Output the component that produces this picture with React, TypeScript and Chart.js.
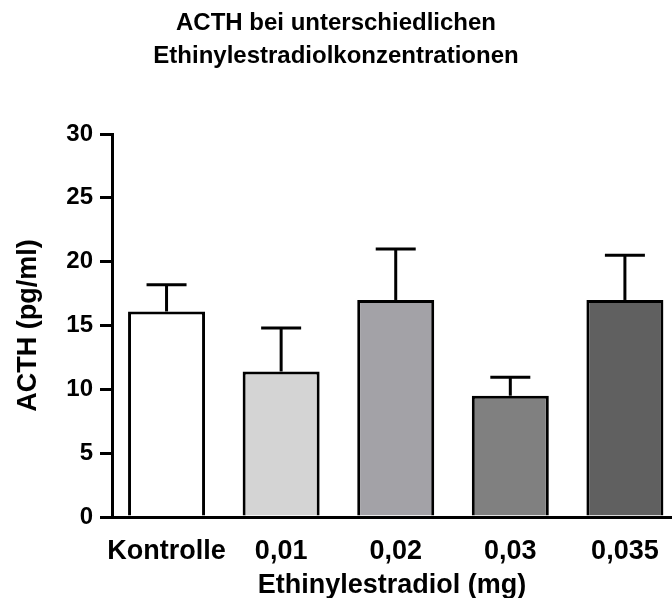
import { useEffect, useRef } from 'react';
import { Chart, registerables } from 'chart.js';

Chart.register(...registerables);

// Chart content
const chartTitle = ['ACTH bei unterschiedlichen', 'Ethinylestradiolkonzentrationen'];
const categories = ['Kontrolle', '0,01', '0,02', '0,03', '0,035'];
const acthMean = [16.1, 11.4, 17.0, 9.5, 17.0];
const acthSem = [2.1, 3.4, 4.0, 1.45, 3.5];
const barColors = ['#ffffff', '#d4d4d4', '#a3a2a7', '#808080', '#606060'];
const yAxisLabel = 'ACTH (pg/ml)';
const xAxisLabel = 'Ethinylestradiol (mg)';
const yMin = 0;
const yMax = 30;
const yStep = 5;

const FONT = '"Liberation Sans", Arial, Helvetica, sans-serif';

// Upper error bars (mean + SEM) drawn on top of each bar
const errorBarsPlugin = {
  id: 'errorBars',
  afterDatasetsDraw(chart: any) {
    const { ctx } = chart;
    const meta = chart.getDatasetMeta(0);
    const yScale = chart.scales.y;
    ctx.save();
    ctx.strokeStyle = '#000';
    ctx.lineWidth = 3;
    ctx.lineCap = 'butt';
    meta.data.forEach((bar: any, i: number) => {
      const top = yScale.getPixelForValue(acthMean[i]);
      const cap = yScale.getPixelForValue(acthMean[i] + acthSem[i]);
      ctx.beginPath();
      ctx.moveTo(bar.x, top);
      ctx.lineTo(bar.x, cap);
      ctx.stroke();
      ctx.beginPath();
      ctx.moveTo(bar.x - 20, cap);
      ctx.lineTo(bar.x + 20, cap);
      ctx.stroke();
    });
    ctx.restore();
  },
};

export default function App() {
  const canvasRef = useRef<HTMLCanvasElement | null>(null);

  useEffect(() => {
    if (!canvasRef.current) return;
    Chart.defaults.font.family = FONT;
    Chart.defaults.color = '#000';

    const chart = new Chart(canvasRef.current, {
      type: 'bar',
      data: {
        datasets: [
          {
            data: acthMean.map((v, i) => ({ x: i, y: v })),
            backgroundColor: barColors,
            borderColor: '#000',
            borderWidth: 3,
            categoryPercentage: 1,
            barPercentage: 0.672,
          },
        ],
      },
      options: {
        responsive: false,
        animation: false,
        layout: { padding: 0 },
        plugins: {
          legend: { display: false },
          tooltip: { enabled: false },
          title: {
            display: true,
            text: chartTitle,
            color: '#000',
            font: { size: 24, weight: 'bold', lineHeight: 1.375 },
            padding: { top: 7, bottom: 61 },
          },
        },
        scales: {
          x: {
            type: 'linear',
            offset: false,
            min: -0.476,
            max: 4.411,
            z: 1,
            afterBuildTicks: (scale: any) => {
              scale.ticks = categories.map((_, i) => ({ value: i }));
            },
            afterFit: (scale: any) => {
              scale.height = 81;
              // the plot runs right up to the canvas edge
              scale.paddingLeft = 0;
              scale.paddingRight = 0;
            },
            grid: { display: false, drawTicks: false, offset: false },
            border: { display: true, color: '#000', width: 3 },
            ticks: {
              autoSkip: false,
              maxRotation: 0,
              padding: 18,
              color: '#000',
              font: { size: 27, weight: 'bold' },
              callback: (value: any) => categories[value] ?? '',
            },
            title: {
              display: true,
              text: xAxisLabel,
              color: '#000',
              font: { size: 27, weight: 'bold', lineHeight: 1 },
              padding: { top: 0, bottom: -1 },
            },
          },
          y: {
            min: yMin,
            max: yMax,
            afterFit: (scale: any) => {
              scale.width = 112;
            },
            grid: {
              drawOnChartArea: false,
              drawTicks: true,
              tickLength: 12,
              tickWidth: 3,
              tickColor: '#000',
              color: '#000',
              lineWidth: 3,
            },
            border: { display: true, color: '#000', width: 3 },
            ticks: {
              stepSize: yStep,
              padding: 7,
              color: '#000',
              font: { size: 24, weight: 'bold' },
            },
            title: {
              display: true,
              text: yAxisLabel,
              color: '#000',
              font: { size: 27, weight: 'bold', lineHeight: 1 },
              padding: { top: 15, bottom: 0 },
            },
          },
        },
      } as any,
      plugins: [errorBarsPlugin],
    });

    return () => chart.destroy();
  }, []);

  return (
    <div
      style={{
        position: 'fixed',
        left: 0,
        top: 0,
        width: 672,
        height: 598,
        background: '#ffffff',
        overflow: 'hidden',
      }}
    >
      <canvas ref={canvasRef} width={672} height={598} style={{ display: 'block' }} />
    </div>
  );
}
